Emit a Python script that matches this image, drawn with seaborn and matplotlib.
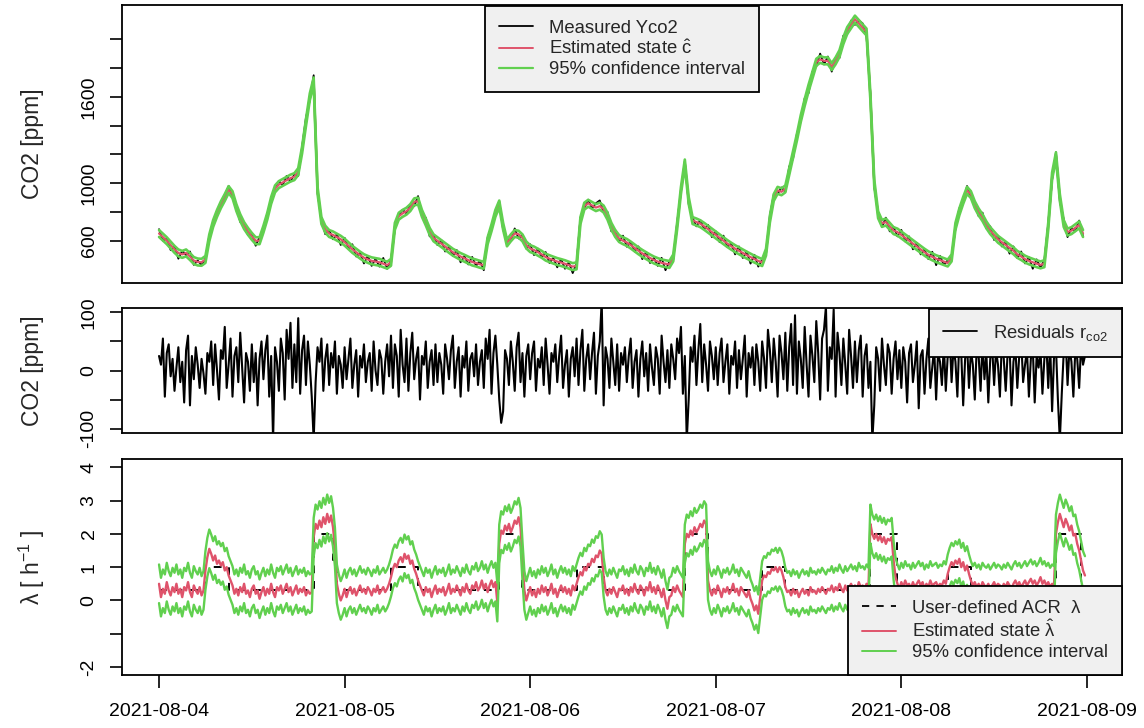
import numpy as np
import pandas as pd
import matplotlib
matplotlib.use("Agg")
import matplotlib.pyplot as plt
import matplotlib.dates as mdates
from matplotlib.lines import Line2D
import seaborn as sns

START = "2021-08-04"

# CO2 state estimate [ppm], one value every 30 min
co2_est = [
    650, 625, 600, 570, 540, 515, 505, 515, 490, 462, 452, 450,
    470, 620, 720, 790, 850, 900, 955, 920, 830, 760, 705, 665,
    630, 600, 600, 680, 770, 880, 960, 990, 1005, 1020, 1035, 1045,
    1080, 1230, 1420, 1600, 1710, 950, 740, 680, 650, 640, 625, 610,
    590, 565, 540, 520, 500, 482, 470, 460, 455, 450, 440, 430,
    450, 700, 770, 790, 805, 830, 870, 875, 790, 730, 665, 620,
    600, 580, 560, 540, 520, 505, 490, 478, 465, 452, 445, 436,
    430, 600, 690, 790, 855, 700, 585, 620, 650, 645, 620, 570,
    545, 535, 520, 505, 486, 475, 465, 455, 448, 440, 430, 420,
    425, 740, 840, 860, 845, 830, 840, 820, 770, 700, 650, 615,
    600, 588, 570, 550, 530, 512, 496, 480, 466, 455, 446, 440,
    435, 480, 700, 950, 1140, 880, 740, 730, 718, 700, 680, 660,
    640, 620, 600, 580, 562, 545, 530, 515, 500, 486, 472, 460,
    448, 520, 750, 900, 950, 940, 960, 1080, 1200, 1320, 1450, 1560,
    1660, 1750, 1840, 1860, 1850, 1850, 1810, 1850, 1900, 1990, 2060, 2100,
    2140, 2110, 2080, 2050, 1600, 1000, 780, 720, 730, 700, 670, 660,
    640, 620, 600, 580, 560, 540, 520, 502, 488, 475, 465, 455,
    445, 480, 700, 800, 880, 950, 920, 850, 800, 760, 710, 670,
    640, 610, 590, 570, 550, 530, 505, 490, 472, 460, 450, 440,
    432, 440, 700, 1050, 1190, 900, 720, 660, 670, 690, 710, 650,
]

# measured minus estimated CO2 [ppm], same 30 min grid
co2_meas_offset = [
    30, -25, 15, -35, 20, -40, 25, -15, 35, -30, 10, -20, 5, 15, -10, 20, -15, 10, 25, -20, 15, -30, 20, -25,
    15, -35, 25, -10, 20, -15, 10, 25, -20, 30, -25, 15, -30, 20, 35, -25, 40, -20, 15, -35, 25, -30, 20, -40,
    30, -20, 35, -30, 15, -40, 25, -35, 20, -30, 40, -25, 15, -20, 10, 25, -15, 20, -30, 35, -20, 30, -35, 20,
    -30, 25, -35, 20, -25, 30, -40, 15, -30, 35, -20, 25, -35, 20, 10, -15, 20, -25, 30, -20, 35, -30, 20, -25,
    30, -35, 25, -20, 35, -30, 15, -40, 25, -35, 20, -45, 15, 20, -15, 25, -20, 30, 40, -25, 30, -35, 25, -20,
    35, -30, 20, -25, 30, -40, 25, -35, 15, -30, 35, -45, 20, -15, 25, -10, 15, -25, 20, -30, 25, -20, 30, -35,
    25, -30, 35, -25, 20, -40, 30, -35, 25, -45, 30, -40, 20, -15, 25, 20, -25, 30, -20, 35, -30, 25, -20, 30,
    -35, 25, -30, 40, -25, 30, -35, 20, -30, 35, -25, 30, -40, 20, 30, -35, 25, -30, 20, -25, 30, -35, 25, -30,
    35, -25, 30, -40, 25, -35, 20, -30, 35, -45, 30, -25, 20, 15, -20, 25, -15, 30, -25, 20, -30, 35, -25, 30,
    -35, 25, -30, 20, -40, 30, -25, 35, -30, 25, -45, 30, -20, 25, 20, -30, 25, -25, 30, -35, 20, -25, 30, -20,
]
co2_ci_half = 24.0

# CO2 residuals [ppm], one value every 15 min
resid = [
    25, 10, 55, -45, 30, 45, -10, 20, -35, 5, 40, -20, 15, -55, 35, 60, -60, 25, -15, 40, 10, -30, 20, -5,
    -40, 30, 15, 50, -25, 45, 0, -50, 35, 20, 75, -30, 10, 55, -45, 25, 40, -20, 65, 5, -55, 30, 15, -35,
    45, -20, 30, -60, 20, 50, -15, 35, 60, -45, 25, -120, 40, 15, -35, 55, 30, -50, 70, 20, 82, -30, 45, -20,
    90, -40, 35, 60, -25, 50, 10, -45, -120, -20, 40, 15, 55, -35, 20, 45, -25, 30, 5, 50, -40, 25, 10, -30,
    40, -15, 20, 55, -30, 10, 35, -45, 25, 5, 45, -20, 15, 30, -35, 50, 0, -25, 35, 20, -40, 15, 45, -10,
    60, -30, 45, 25, -45, 70, 10, -20, 55, -35, 30, 65, -15, 20, 40, -50, 25, 10, 50, -30, 15, 35, -25, 45,
    -20, 30, 10, -40, 45, 20, -15, 35, 60, -30, 15, 40, -45, 25, 5, 50, -35, 20, 30, -10, 45, -25, 15, 35,
    -30, 55, 20, 70, -40, 30, 60, 10, -50, -90, -70, 35, 20, -25, 50, 15, -35, 40, 65, -20, 30, -45, 25, 45,
    -15, 30, 50, -35, 20, 5, 40, -25, 55, 10, -40, 30, 15, 45, -20, 25, 60, -30, 10, 35, -45, 20, 40, -10,
    55, -25, 35, 70, -35, 20, 45, -15, 30, 65, -40, 25, 50, 120, -60, 40, 20, -30, 55, 15, -25, 45, -35, 30,
    10, 40, -20, 25, 55, -30, 15, 35, -45, 20, 50, -10, 30, -35, 45, 5, -25, 40, 20, -40, 60, 15, -20, 35,
    -30, 45, 20, -15, 55, 30, 75, -40, 25, -120, -50, 40, 15, 60, -25, 35, 80, -20, 45, 10, -35, 50, 25, -15,
    40, -25, 30, 55, -20, 15, 45, -40, 25, 10, 50, -30, 35, -15, 20, 60, -45, 30, 5, 40, -25, 45, 15, -35,
    50, 20, -30, 70, 35, -20, 55, 15, -45, 60, 30, -15, 65, -35, 40, 80, -25, 95, -40, 50, 20, -30, 75, 10,
    -45, 60, 25, -20, 85, 30, -50, 55, 70, 110, -35, 40, 20, 105, -45, 65, 30, -25, 55, 10, -40, 70, 25, -30,
    50, -20, 35, 60, -45, 25, 45, -30, 15, -120, -60, 40, 20, -35, 55, 10, -25, 45, 30, -40, 20, 50, -15, 35,
    -30, 40, 15, -55, 30, 45, -20, 10, 50, -65, 25, 35, -40, 20, 55, -30, 5, 40, -50, 30, 15, -25, 45, -35,
    25, 60, -20, 40, 15, -45, 55, 30, -60, 20, 45, -30, 35, 10, -50, 40, 25, -35, 50, -15, 30, -55, 20, 40,
    -25, 35, 10, -45, 50, 20, -35, 30, 45, -60, 15, 40, -30, 25, 55, -20, 10, 35, -45, 20, 40, -55, 25, 5,
    35, -40, 20, 50, -30, 45, -70, 25, 40, -50, -120, -40, 30, 55, -25, 40, 15, -45, 35, 20, -30, 45, 10, 25,
]

# estimated air change rate [1/h], one value every 15 min
lam_est = [
    0.5, 0.1, 0.35, 0.2, 0.55, 0.3, 0.15, 0.4, 0.25, 0.5, 0.2, 0.35, 0.1, 0.4, 0.3, 0.55, 0.25, 0.1, 0.45, 0.3, 0.2, 0.4, 0.15, 0.3,
    0.9, 1.3, 1.55, 1.4, 1.2, 1.35, 1.1, 1.2, 1.05, 1.15, 0.9, 1.0, 0.75, 0.6,
    0.45, 0.2, 0.35, 0.15, 0.4, 0.25, 0.5, 0.2, 0.3, 0.1, 0.35, 0.45, 0.2, 0.3, 0.05, 0.25, 0.4, 0.15, 0.35, 0.2, 0.5,
    0.25, 0.1, 0.4, 0.3, 0.45, 0.2, 0.35, 0.5, 0.25, 0.4, 0.15, 0.3, 0.45, 0.2, 0.35, 0.25, 0.4, 0.15, 0.3, 0.2, 0.25,
    1.9, 2.3, 2.15, 2.4, 2.2, 2.5, 2.3, 2.6, 2.35, 2.55, 2.2, 1.6,
    0.5, 0.2, 0.0, 0.15, 0.35, 0.1, 0.3, 0.4, 0.2, 0.35, 0.15, 0.3, 0.45, 0.25, 0.35, 0.2, 0.4, 0.3, 0.15, 0.35, 0.25,
    0.45, 0.2, 0.3, 0.4, 0.25, 0.35, 0.5,
    0.7, 0.95, 1.1, 1.0, 1.2, 1.3, 1.15, 1.4, 1.25, 1.35, 1.1, 1.2, 0.95, 0.8, 0.6, 0.45,
    0.3, 0.15, 0.4, 0.25, 0.35, 0.1, 0.3, 0.45, 0.2, 0.35, 0.25, 0.4, 0.15, 0.3, 0.5, 0.2, 0.35, 0.25, 0.45, 0.3,
    0.15, 0.4, 0.25, 0.5, 0.3, 0.2, 0.45, 0.35, 0.55, 0.3, 0.4, 0.6, 0.35, 0.5, 0.25, 0.45, 0.6, 0.4, 0.55, -0.05,
    1.7, 2.1, 2.0, 2.25, 2.1, 2.3, 2.05, 2.2, 2.4, 2.3, 2.5, 2.2,
    1.2, 0.3, 0.0, 0.2, 0.4, 0.15, 0.3, 0.1, 0.35, 0.2, 0.45, 0.25, 0.4, 0.15, 0.3, 0.5, 0.2, 0.35, 0.1, 0.3, 0.45,
    0.25, 0.4, 0.2, 0.35, 0.15, 0.45, 0.3,
    0.5, 0.7, 0.85, 0.75, 1.0, 0.9, 1.1, 1.05, 1.25, 1.15, 1.35, 1.3, 1.5, 1.4,
    0.7, 0.3, 0.15, 0.35, 0.2, 0.4, 0.25, 0.1, 0.35, 0.3, 0.45, 0.2, 0.35, 0.15, 0.4, 0.25, 0.5, 0.3, 0.2, 0.45, 0.35,
    0.15, 0.4, 0.3, 0.55, 0.25, 0.4, 0.2, 0.45, 0.3, 0.1, 0.35, 0.0, -0.25, 0.1, 0.15, 0.4, 0.25, 0.45, 0.3, 0.2, 0.1,
    1.7, 2.0, 1.9, 2.1, 1.95, 2.2, 2.05, 2.15, 2.3, 2.2, 2.4, 2.3,
    0.6, 0.3, 0.15, 0.35, 0.2, 0.45, 0.3, 0.1, 0.35, 0.25, 0.4, 0.2, 0.3, 0.5, 0.25, 0.35, 0.15, 0.4, 0.3, 0.2, 0.1,
    0.3, 0.05, -0.1, -0.3, -0.15, -0.4, 0.1,
    0.6, 0.75, 0.7, 0.85, 0.8, 0.95, 0.9, 1.0, 0.85, 1.0, 0.9, 0.7,
    0.4, 0.25, 0.3, 0.15, 0.35, 0.2, 0.3, 0.1, 0.25, 0.35, 0.2, 0.3, 0.15, 0.4, 0.25, 0.3, 0.2, 0.35, 0.25, 0.4, 0.3, 0.2,
    0.35, 0.3, 0.45, 0.25, 0.4, 0.3, 0.5, 0.35, 0.25, 0.45, 0.3, 0.4, 0.5, 0.35, 0.45, 0.3, 0.55, 0.4, 0.45, 0.35, 0.5, 0.4,
    2.3, 2.0, 1.85, 2.0, 1.8, 1.95, 1.75, 1.9, 1.7, 1.85, 1.8, 1.9, 1.2, 0.7,
    0.5, 0.35, 0.55, 0.4, 0.6, 0.45, 0.5, 0.35, 0.55, 0.4, 0.5, 0.6, 0.45, 0.55, 0.35, 0.5, 0.4, 0.6, 0.45, 0.5, 0.55,
    0.4, 0.5, 0.45, 0.6, 0.5,
    0.8, 1.0, 1.15, 1.05, 1.2, 1.1, 1.25, 1.0, 1.15, 0.9, 1.05, 0.8,
    0.6, 0.45, 0.55, 0.4, 0.5, 0.35, 0.55, 0.45, 0.4, 0.5, 0.35, 0.45, 0.55, 0.4, 0.5, 0.45, 0.35, 0.5, 0.4, 0.55, 0.45, 0.35,
    0.5, 0.6, 0.45, 0.55, 0.4, 0.5, 0.6, 0.45, 0.55, 0.65, 0.5, 0.6, 0.45, 0.55, 0.7, 0.5, 0.6, 0.45, 0.55, 0.4, 0.5, 0.45,
    2.0, 2.35, 2.6, 2.4, 2.2, 2.45, 2.3, 2.1, 2.25, 1.95, 2.0, 1.7, 1.5, 1.2, 0.9, 0.75,
]
lam_ci_half = 0.58

# user-defined air change rate schedule: change times [h] and levels [1/h]
acr_hours = [0, 6, 9, 20, 22.5, 23, 30, 33.5, 44, 47, 54, 57.5, 68, 71, 78, 81,
             92, 95.5, 102, 105, 116, 119.25, 119.75]
acr_values = [0.3, 1.0, 0.3, 2.0, 1.2, 0.3, 1.0, 0.3, 2.0, 0.3, 1.0, 0.3, 2.0, 0.3, 1.0, 0.3,
              2.0, 0.3, 1.0, 0.3, 2.0, 0.3, 0.3]

co2_ticks = [600, 800, 1000, 1200, 1400, 1600, 1800, 2000]
co2_ticklabels = ["600", "", "1000", "", "", "1600", "", ""]
res_ticks = [-100, -50, 0, 50, 100]
res_ticklabels = ["-100", "", "0", "", "100"]
lam_ticks = [-2, -1, 0, 1, 2, 3, 4]
lam_ticklabels = ["-2", "", "0", "1", "2", "3", "4"]

RED = "#DF536B"
GREEN = "#61D04F"
LEGEND_BG = "#F0F0F0"

sns.set_style("white")
plt.rcParams["font.family"] = ["Liberation Sans", "DejaVu Sans"]
plt.rcParams["mathtext.fontset"] = "custom"
plt.rcParams["mathtext.rm"] = "Liberation Sans"
plt.rcParams["mathtext.it"] = "Liberation Sans:italic"
plt.rcParams["mathtext.bf"] = "Liberation Sans:bold"

base = pd.Timestamp(START)
t_co2 = base + pd.to_timedelta(np.arange(len(co2_est)) * 0.5, unit="h")
t_res = base + pd.to_timedelta(np.arange(len(resid)) * 0.25, unit="h")
t_lam = base + pd.to_timedelta(np.arange(len(lam_est)) * 0.25, unit="h")
t_acr = base + pd.to_timedelta(np.array(acr_hours), unit="h")

est = np.array(co2_est, dtype=float)
meas = est + np.array(co2_meas_offset, dtype=float)
lam = np.array(lam_est, dtype=float)

W, H = 1144, 728
fig = plt.figure(figsize=(W / 100, H / 100), dpi=100)


def frame(left, top, right, bottom):
    return [left / W, 1 - bottom / H, (right - left) / W, (bottom - top) / H]


ax1 = fig.add_axes(frame(122, 5, 1122, 283))
ax2 = fig.add_axes(frame(122, 307.7, 1122, 433.3))
ax3 = fig.add_axes(frame(122, 459.3, 1122, 675))

line_kw = dict(estimator=None, sort=False, legend=False)

# top: measured CO2, estimate and confidence band
sns.lineplot(x=t_co2, y=meas, ax=ax1, color="black", linewidth=1.3, **line_kw)
sns.lineplot(x=t_co2, y=est, ax=ax1, color=RED, linewidth=1.6, **line_kw)
sns.lineplot(x=t_co2, y=est - co2_ci_half, ax=ax1, color=GREEN, linewidth=1.9, **line_kw)
sns.lineplot(x=t_co2, y=est + co2_ci_half, ax=ax1, color=GREEN, linewidth=1.9, **line_kw)

# middle: residuals
sns.lineplot(x=t_res, y=resid, ax=ax2, color="black", linewidth=1.5, **line_kw)

# bottom: air change rate
sns.lineplot(x=t_acr, y=acr_values, ax=ax3, color="black", linewidth=1.4,
             linestyle=(0, (4, 4)), drawstyle="steps-post", **line_kw)
sns.lineplot(x=t_lam, y=lam, ax=ax3, color=RED, linewidth=1.7, **line_kw)
sns.lineplot(x=t_lam, y=lam - lam_ci_half, ax=ax3, color=GREEN, linewidth=1.7, **line_kw)
sns.lineplot(x=t_lam, y=lam + lam_ci_half, ax=ax3, color=GREEN, linewidth=1.7, **line_kw)

t_first = min(t_co2[0], t_res[0], t_lam[0])
t_last = max(t_co2[-1], t_res[-1], t_lam[-1])
pad = (t_last - t_first) * 0.04

for ax, ticks, labels, ylim, ylabel in [
    (ax1, co2_ticks, co2_ticklabels, (306, 2238), "CO2 [ppm]"),
    (ax2, res_ticks, res_ticklabels, (-108, 108), "CO2 [ppm]"),
    (ax3, lam_ticks, lam_ticklabels, (-2.24, 4.24), "λ [ h$^{-1}$ ]"),
]:
    ax.set_xlim(t_first - pad, t_last + pad)
    ax.set_ylim(*ylim)
    ax.set_yticks(ticks)
    ax.set_yticklabels(labels, rotation=90, va="center")
    ax.tick_params(axis="y", left=True, direction="out", length=8.6, width=1.2,
                   labelsize=14, pad=9, colors="black")
    ax.set_ylabel(ylabel, fontsize=16.5, va="center")
    ax.yaxis.set_label_coords(-0.09, 0.5)
    ax.set_xlabel("")
    for sp in ax.spines.values():
        sp.set_visible(True)
        sp.set_color("black")
        sp.set_linewidth(1.3)

for ax in (ax1, ax2):
    ax.set_xticks([])

ax3.xaxis.set_major_locator(mdates.DayLocator())
ax3.xaxis.set_major_formatter(mdates.DateFormatter("%Y-%m-%d"))
ax3.tick_params(axis="x", bottom=True, direction="out", length=9, width=1.2,
                labelsize=14, pad=11, colors="black")

leg_kw = dict(fontsize=13.3, frameon=True, fancybox=False, edgecolor="black",
              facecolor=LEGEND_BG, framealpha=1, borderaxespad=0,
              handlelength=1.85, handletextpad=0.85, borderpad=0.75,
              labelspacing=0.15)

leg1 = ax1.legend(
    [Line2D([], [], color="black", lw=1.3), Line2D([], [], color=RED, lw=1.4),
     Line2D([], [], color=GREEN, lw=1.6)],
    ["Measured Yco2", r"Estimated state $\hat{\mathrm{c}}$", "95% confidence interval"],
    loc="upper center", bbox_to_anchor=(0.5, 0.997), **leg_kw)

leg2 = ax2.legend(
    [Line2D([], [], color="black", lw=1.3)],
    [r"Residuals r$_{\mathrm{co2}}$"],
    loc="upper right", bbox_to_anchor=(1.0, 0.99), **leg_kw)

leg3 = ax3.legend(
    [Line2D([], [], color="black", lw=1.3, linestyle=(0, (4, 4))),
     Line2D([], [], color=RED, lw=1.4), Line2D([], [], color=GREEN, lw=1.4)],
    ["User-defined ACR  λ", r"Estimated state $\hat{\mathrm{\lambda}}$", "95% confidence interval"],
    loc="lower right", bbox_to_anchor=(1.0, 0.0), **leg_kw)

for leg in (leg1, leg2, leg3):
    leg.get_frame().set_linewidth(1.3)

fig.savefig("out.png", dpi=100)
